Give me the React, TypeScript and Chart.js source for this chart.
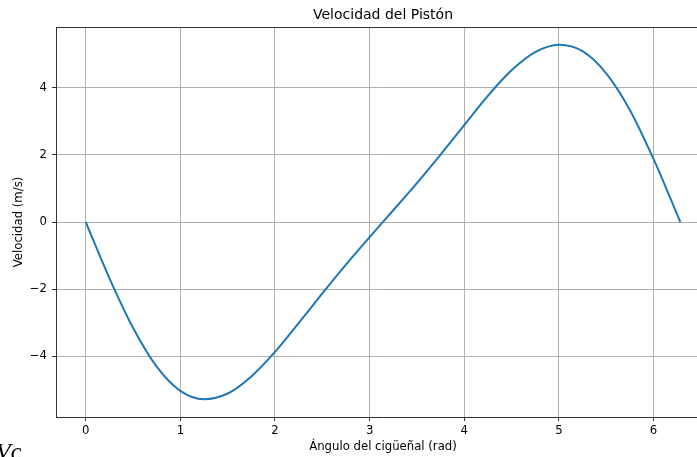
import React, { useEffect, useRef } from "react";
import { Chart, registerables } from "chart.js";

Chart.register(...registerables);

const ANGLES = [0, 0.25, 0.5, 0.75, 1.0, 1.25, 1.5, 1.75, 2.0, 2.25, 2.5, 2.75, 3.0, 3.25, 3.5, 3.75, 4.0, 4.25, 4.5, 4.75, 5.0, 5.25, 5.5, 5.75, 6.0, 6.15, 6.283];
const VELOCITY = [0, -1.67, -3.15, -4.31, -5.03, -5.28, -5.11, -4.6, -3.87, -3.01, -2.13, -1.27, -0.45, 0.35, 1.16, 2.01, 2.89, 3.76, 4.52, 5.06, 5.28, 5.09, 4.43, 3.34, 1.88, 0.9, 0];
const X_TICKS = [0, 1, 2, 3, 4, 5, 6];
const Y_TICKS = [-4, -2, 0, 2, 4];

const TITLE = "Velocidad del Pistón";
const X_LABEL = "Ángulo del cigüeñal (rad)";
const Y_LABEL = "Velocidad (m/s)";

const FONT = "'DejaVu Sans', sans-serif";

export default function App() {
  const ref = useRef<HTMLCanvasElement | null>(null);

  useEffect(() => {
    if (!ref.current) return;
    const frame = {
      id: "frame",
      afterDraw(chart: any) {
        const { ctx, chartArea } = chart;
        ctx.save();
        ctx.strokeStyle = "#333";
        ctx.lineWidth = 1;
        ctx.beginPath();
        ctx.moveTo(chartArea.left, chartArea.top + 0.5);
        ctx.lineTo(chartArea.right, chartArea.top + 0.5);
        ctx.moveTo(chartArea.right - 0.5, chartArea.top);
        ctx.lineTo(chartArea.right - 0.5, chartArea.bottom);
        ctx.stroke();
        ctx.restore();
      },
    };
    const chart = new Chart(ref.current, {
      type: "line",
      data: {
        datasets: [
          {
            data: ANGLES.map((a, i) => ({ x: a, y: VELOCITY[i] })),
            borderColor: "#1f77b4",
            borderWidth: 2,
            pointRadius: 0,
            cubicInterpolationMode: "monotone",
            fill: false,
          },
        ],
      },
      options: {
        responsive: false,
        animation: false,
        layout: { padding: { left: 0, right: 20, top: 0, bottom: 0 } },
        plugins: {
          legend: { display: false },
          tooltip: { enabled: false },
          title: {
            display: true,
            text: TITLE,
            fullSize: false,
            color: "#000",
            font: { family: FONT, size: 14, weight: "normal" },
            padding: { top: 6.6, bottom: 3.6 },
          },
        },
        scales: {
          x: {
            type: "linear",
            min: -0.314,
            max: 6.597,
            afterBuildTicks: (s: any) => {
              s.ticks = X_TICKS.map((v) => ({ value: v }));
            },
            afterFit: (s: any) => {
              s.height = 40;
            },
            grid: { color: "#b0b0b0", lineWidth: 1, tickLength: 4, tickColor: "#333" },
            border: { display: true, color: "#333", width: 1 },
            ticks: {
              color: "#000",
              font: { family: FONT, size: 11.7 },
              padding: 3,
              maxRotation: 0,
              callback: (v: any) => String(v),
            },
            title: {
              display: true,
              text: X_LABEL,
              color: "#000",
              font: { family: FONT, size: 11.7 },
              padding: { top: 0, bottom: 3.4 },
            },
          },
          y: {
            type: "linear",
            min: -5.81,
            max: 5.81,
            afterBuildTicks: (s: any) => {
              s.ticks = Y_TICKS.map((v) => ({ value: v }));
            },
            afterFit: (s: any) => {
              s.width = 56;
            },
            grid: { color: "#b0b0b0", lineWidth: 1, tickLength: 4, tickColor: "#333" },
            border: { display: true, color: "#333", width: 1 },
            ticks: {
              color: "#000",
              font: { family: FONT, size: 11.7 },
              padding: 5,
              callback: (v: any) => (v < 0 ? "\u2212" + Math.abs(v) : String(v)),
            },
            title: {
              display: true,
              text: Y_LABEL,
              color: "#000",
              font: { family: FONT, size: 11.7 },
              padding: { top: 12, bottom: 0 },
            },
          },
        },
      },
      plugins: [frame],
    } as any);
    return () => chart.destroy();
  }, []);

  return (
    <div
      style={{
        position: "fixed",
        left: 0,
        top: 0,
        width: 697,
        height: 457,
        overflow: "hidden",
        background: "#fff",
      }}
    >
      <canvas ref={ref} width={730} height={457} style={{ position: "absolute", left: 0, top: 0 }} />
      <div
        style={{
          position: "absolute",
          left: -4,
          top: 439,
          fontFamily: "'Liberation Serif', 'DejaVu Serif', serif",
          fontStyle: "italic",
          fontSize: 24,
          lineHeight: "24px",
          color: "#000",
        }}
      >
        Vc
      </div>
    </div>
  );
}
